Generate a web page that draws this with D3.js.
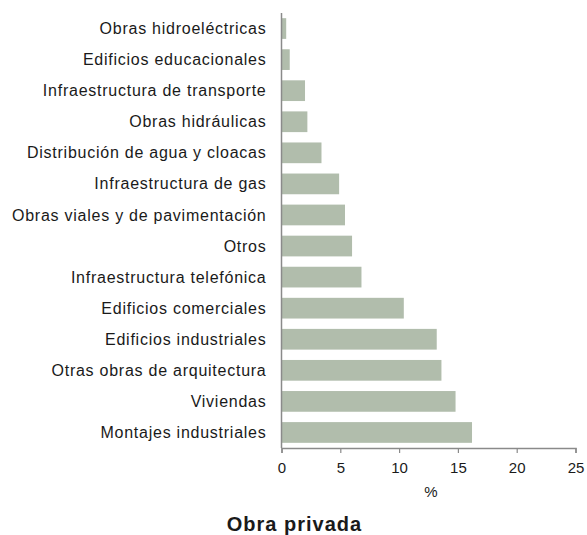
<!DOCTYPE html>
<html>
<head>
<meta charset="utf-8">
<script src="https://cdn.jsdelivr.net/npm/d3@7"></script>
<style>
  html, body { margin: 0; padding: 0; background: #fff; }
  svg { display: block; }
  text { font-family: "Liberation Sans", Arial, Helvetica, sans-serif; fill: #1a1a1a; }
</style>
</head>
<body>
<svg id="chart" width="587" height="535"></svg>
<script>
// Participación por tipo de obra (%), obra privada
const categories = [
  "Obras hidroeléctricas",
  "Edificios educacionales",
  "Infraestructura de transporte",
  "Obras hidráulicas",
  "Distribución de agua y cloacas",
  "Infraestructura de gas",
  "Obras viales y de pavimentación",
  "Otros",
  "Infraestructura telefónica",
  "Edificios comerciales",
  "Edificios industriales",
  "Otras obras de arquitectura",
  "Viviendas",
  "Montajes industriales"
];
const values = [0.4, 0.7, 2.0, 2.2, 3.4, 4.9, 5.4, 6.0, 6.8, 10.4, 13.2, 13.6, 14.8, 16.2];
const xTicks = [0, 5, 10, 15, 20, 25];
const xLabel = "%";
const title = "Obra privada";

const svg = d3.select("#chart");
const plot = { left: 281.5, right: 575.5, top: 13, bottom: 448 };

const x = d3.scaleLinear().domain([0, 25]).range([plot.left, plot.right]);
const y = d3.scaleBand().domain(categories).range([plot.top, plot.bottom]).paddingInner(0.333).paddingOuter(0.1665);

// bars
svg.append("g").selectAll("rect")
  .data(values)
  .join("rect")
  .attr("x", x(0))
  .attr("y", (d, i) => y(categories[i]))
  .attr("width", d => x(d) - x(0))
  .attr("height", y.bandwidth())
  .attr("fill", "#b1bdac");

// category labels
svg.append("g").selectAll("text")
  .data(categories)
  .join("text")
  .attr("x", 266.5)
  .attr("y", d => y(d) + y.bandwidth() / 2)
  .attr("dy", "0.35em")
  .attr("text-anchor", "end")
  .style("font-size", "16px")
  .style("letter-spacing", "0.75px")
  .text(d => d);

// vertical axis line
svg.append("line")
  .attr("x1", plot.left).attr("x2", plot.left)
  .attr("y1", plot.top).attr("y2", plot.bottom)
  .attr("stroke", "#8a8a8a").attr("stroke-width", 1.5);

// x axis
const xAxis = d3.axisBottom(x).tickValues(xTicks).tickSize(5).tickPadding(9).tickFormat(d3.format("d"));
const gx = svg.append("g").attr("transform", `translate(0,${plot.bottom})`).call(xAxis);
gx.select(".domain").attr("stroke", "#8a8a8a").attr("stroke-width", 1.5);
gx.selectAll(".tick line").attr("stroke", "#8a8a8a").attr("stroke-width", 1.2);
gx.selectAll(".tick text")
  .style("font-size", "15px")
  .style("font-family", "'Liberation Sans', Arial, sans-serif")
  .attr("fill", "#1a1a1a");

svg.append("text")
  .attr("x", 431).attr("y", 497)
  .attr("text-anchor", "middle")
  .style("font-size", "15px")
  .text(xLabel);

svg.append("text")
  .attr("x", 294.5).attr("y", 531)
  .attr("text-anchor", "middle")
  .style("font-size", "20px")
  .style("font-weight", "bold")
  .style("letter-spacing", "1px")
  .text(title);
</script>
</body>
</html>
